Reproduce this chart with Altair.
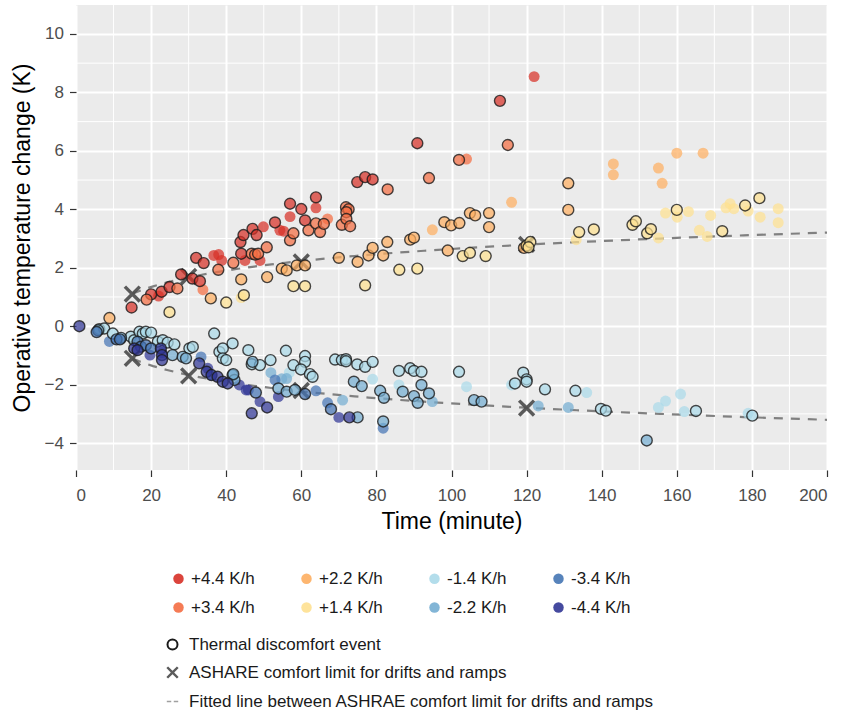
import altair as alt
import pandas as pd

# ---------------- data ----------------
rate_labels = ["+4.4 K/h", "+3.4 K/h", "+2.2 K/h", "+1.4 K/h",
               "-1.4 K/h", "-2.2 K/h", "-3.4 K/h", "-4.4 K/h"]
rate_colors = ["#d73027", "#f46d43", "#fdae61", "#fee090",
               "#abd9e9", "#74add1", "#4575b4", "#313695"]

# (time in minutes, operative temperature change in K)
p44_event = [(14.8, 0.64), (20.0, 1.09), (22.8, 1.18), (24.9, 1.34), (28.0, 1.77),
             (31.0, 1.63), (33.0, 1.54), (32.0, 2.34), (34.0, 2.16), (43.8, 2.88),
             (44.6, 3.12), (47.0, 3.33), (48.1, 3.12), (44.0, 2.48), (53.0, 3.55),
             (57.0, 4.19), (60.0, 4.01), (61.0, 3.62), (63.9, 4.41), (74.9, 4.93),
             (77.0, 5.10), (79.0, 5.02), (90.9, 6.26), (112.9, 7.71)]
p44_other = [(22.0, 1.03), (36.7, 2.42), (38.0, 2.45), (38.8, 2.25), (45.0, 2.25),
             (49.0, 2.25), (49.9, 3.40), (54.3, 3.28), (55.3, 3.25), (57.0, 3.75),
             (63.9, 4.05), (122.0, 8.54)]
p34_event = [(18.8, 0.91), (27.0, 1.29), (37.9, 1.93), (41.9, 2.17), (46.8, 2.48),
             (47.7, 2.45), (48.5, 2.48), (50.8, 2.70), (57.0, 2.94), (57.9, 3.18),
             (61.9, 3.28), (63.9, 3.52), (65.0, 3.22), (66.0, 3.50), (70.8, 3.47),
             (71.9, 4.07), (72.6, 4.00), (72.0, 3.90), (72.0, 3.67), (73.0, 3.42),
             (83.0, 4.68), (94.0, 5.07), (102.0, 5.69), (115.0, 6.20)]
p34_other = [(33.8, 1.25), (67.0, 3.67), (104.0, 5.72)]
p22_event = [(8.9, 0.28), (35.9, 0.95), (44.0, 1.60), (50.9, 1.68), (54.8, 1.97),
             (56.1, 1.91), (58.8, 2.08), (61.0, 2.08), (70.0, 2.34), (75.0, 2.20),
             (77.9, 2.42), (79.0, 2.68), (81.8, 2.42), (82.9, 2.88), (89.0, 2.96),
             (90.0, 3.03), (98.1, 3.56), (99.9, 3.45), (102.1, 3.53), (104.9, 3.87),
             (106.3, 3.79), (110.0, 3.87), (110.0, 3.39), (99.0, 2.59), (131.1, 4.89),
             (131.1, 3.98), (119.3, 2.68)]
p22_other = [(94.9, 3.30), (116.0, 4.24), (143.1, 5.55), (143.1, 5.18), (155.1, 5.41),
             (156.1, 4.89), (160.0, 5.92), (167.0, 5.92)]
p14_event = [(24.9, 0.48), (40.0, 0.81), (44.7, 1.06), (57.9, 1.37), (61.0, 1.37),
             (77.0, 1.40), (86.1, 1.93), (90.9, 1.97), (103.0, 2.40), (104.9, 2.51),
             (109.1, 2.40), (120.0, 2.76), (121.0, 2.88), (120.5, 2.70), (134.0, 3.22),
             (137.9, 3.31), (148.2, 3.47), (149.1, 3.59), (152.1, 3.18), (153.1, 3.32),
             (160.0, 3.98), (172.1, 3.25), (178.2, 4.13), (182.0, 4.38)]
p14_other = [(44.0, 0.98), (133.2, 2.96), (155.1, 3.02), (157.0, 3.87), (160.1, 3.73),
             (163.1, 3.92), (166.0, 3.28), (168.1, 3.07), (169.0, 3.79), (173.1, 4.05),
             (174.2, 4.19), (175.2, 4.02), (179.0, 3.94), (182.2, 3.73), (187.0, 4.02),
             (187.0, 3.54)]
m14_event = [(6.2, -0.10), (7.5, -0.08), (9.8, -0.25), (14.6, -0.36), (15.5, -0.48),
             (16.9, -0.19), (17.8, -0.25), (18.6, -0.19), (20.0, -0.22), (21.8, -0.53),
             (23.1, -0.48), (24.4, -0.56), (26.2, -0.62), (30.2, -0.76), (31.1, -0.71),
             (36.8, -0.25), (38.2, -0.88), (39.1, -0.76), (39.1, -1.10), (40.0, -1.16),
             (41.7, -0.59), (45.9, -0.82), (46.8, -1.30), (49.0, -1.33), (51.8, -1.16),
             (55.9, -0.84), (57.9, -1.33), (61.0, -1.02), (61.0, -1.22), (59.9, -1.48),
             (62.3, -1.64), (63.0, -1.73), (69.0, -1.14), (70.8, -1.16), (71.9, -1.13),
             (71.9, -1.20), (74.9, -1.31), (77.0, -1.39), (79.0, -1.22), (86.0, -1.53),
             (89.0, -1.44), (90.0, -1.53), (92.0, -1.56), (102.0, -1.56), (116.9, -1.96),
             (119.1, -1.59), (120.0, -1.82), (120.0, -1.90), (124.9, -2.16), (133.0, -2.21),
             (139.8, -2.83), (141.1, -2.89), (165.1, -2.90), (180.1, -3.06)]
m14_other = [(56.8, -1.59), (79.0, -1.81), (86.0, -2.01), (104.0, -2.07), (116.0, -2.01),
             (136.0, -2.27), (155.1, -2.78), (157.0, -2.56), (161.0, -2.32), (162.0, -2.92),
             (179.0, -2.98)]
m22_event = [(5.9, -0.14), (12.0, -0.40), (25.7, -0.99), (28.4, -1.05), (29.3, -1.10),
             (41.7, -1.67), (42.2, -1.84), (41.9, -1.64), (47.0, -1.22), (53.9, -2.13),
             (56.1, -2.24), (58.3, -2.18), (74.0, -1.90), (76.1, -2.05), (75.0, -3.12),
             (81.0, -2.21), (82.0, -2.45), (81.8, -3.26), (87.0, -2.24), (90.0, -2.39),
             (91.0, -2.62), (92.0, -2.01), (94.0, -2.30), (106.0, -2.53), (108.0, -2.58),
             (152.0, -3.91)]
m22_other = [(51.9, -1.59), (54.8, -1.80), (56.1, -1.79), (71.0, -2.53), (94.9, -2.58),
             (123.1, -2.73), (131.1, -2.78)]
m34_event = [(5.5, -0.20), (10.8, -0.45), (11.7, -0.45), (16.4, -0.53), (17.3, -0.70),
             (18.6, -0.65), (20.0, -0.76), (47.9, -2.27), (61.0, -2.32), (67.9, -2.84)]
m34_other = [(8.9, -0.52), (33.3, -1.05), (36.0, -1.67), (53.0, -1.84), (63.9, -2.21),
             (67.0, -2.62), (81.8, -3.49)]
m44_event = [(0.9, 0.00), (15.5, -0.76), (16.4, -0.82), (22.6, -0.76), (22.9, -0.99),
             (22.9, -1.16), (32.8, -1.27), (34.8, -1.56), (36.1, -1.67), (37.7, -1.73),
             (39.1, -1.90), (40.4, -1.96), (50.9, -2.78), (46.8, -2.98), (72.8, -3.12)]
m44_other = [(19.7, -0.99), (22.9, -0.90), (35.1, -1.44), (43.5, -2.01), (45.3, -2.18),
             (45.9, -2.18), (49.0, -2.58), (53.9, -2.41), (70.0, -3.12)]

ashrae_time = [15, 30, 60, 120]
ashrae_limit = [1.1, 1.7, 2.2, 2.8]

x_major = list(range(0, 201, 20))
x_minor = list(range(10, 200, 20))
y_major = [-4, -2, 0, 2, 4, 6, 8, 10]
y_minor = [-3, -1, 1, 3, 5, 7, 9]

EVENT_LABEL = "Thermal discomfort event"
ASHRAE_LABEL = "ASHARE comfort limit for drifts and ramps"
FIT_LABEL = "Fitted line between ASHRAE comfort limit for drifts and ramps"
X_PATH = ("M-1,-0.72L-0.72,-1L0,-0.28L0.72,-1L1,-0.72L0.28,0L1,0.72L0.72,1"
          "L0,0.28L-0.72,1L-1,0.72L-0.28,0Z")
DASH_PATH = "M-1,0L-0.22,0M0.22,0L1,0"
FONT = "Liberation Sans"

# ---------------- tables ----------------
groups = [
    ("+4.4 K/h", p44_event, p44_other), ("+3.4 K/h", p34_event, p34_other),
    ("+2.2 K/h", p22_event, p22_other), ("+1.4 K/h", p14_event, p14_other),
    ("-1.4 K/h", m14_event, m14_other), ("-2.2 K/h", m22_event, m22_other),
    ("-3.4 K/h", m34_event, m34_other), ("-4.4 K/h", m44_event, m44_other),
]
rows = []
for lab, ev, ot in groups:
    for t, v in ot:
        rows.append({"t": t, "v": v, "rate": lab, "event": 0, "ev": ""})
    for t, v in ev:
        rows.append({"t": t, "v": v, "rate": lab, "event": 1, "ev": EVENT_LABEL})
pts = pd.DataFrame(rows)

ash = pd.DataFrame(
    [{"t": t, "v": s * l, "sign": "pos" if s > 0 else "neg", "lab": ASHRAE_LABEL}
     for s in (1, -1) for t, l in zip(ashrae_time, ashrae_limit)]
)

xs = alt.Scale(domain=[0, 200], nice=False, zero=False)
ys = alt.Scale(domain=[-4.92, 10.99], nice=False, zero=False)

axis_common = dict(grid=True, gridColor="white", gridWidth=2, domain=False,
                   tickColor="#333333", tickSize=6.5, tickWidth=1.2,
                   labelColor="#4D4D4D", labelFontSize=17, labelFont=FONT,
                   titleFont=FONT, titleFontSize=23, titleFontWeight="normal",
                   titleColor="black")
xaxis = alt.Axis(values=x_major, title="Time (minute)", labelPadding=11,
                 titlePadding=7, **axis_common)
yaxis = alt.Axis(values=y_major, title="Operative temperature change (K)",
                 labelPadding=6, titleX=-47, titleY=232.5, titleAngle=270,
                 titleAlign="center", titleBaseline="alphabetic", **axis_common)

leg_common = dict(title=None, orient="none", labelFontSize=17, labelFont=FONT,
                  labelColor="#1a1a1a", labelLimit=0)

minor_x = alt.Chart(pd.DataFrame({"x": x_minor})).mark_rule(
    color="white", strokeWidth=1).encode(x=alt.X("x:Q", scale=xs, axis=xaxis))
minor_y = alt.Chart(pd.DataFrame({"y": y_minor})).mark_rule(
    color="white", strokeWidth=1).encode(y=alt.Y("y:Q", scale=ys, axis=yaxis))

fit = alt.Chart(ash).transform_regression(
    "t", "v", method="log", groupby=["sign"], extent=[15, 200]
).transform_calculate(fit=f'"{FIT_LABEL}"').mark_line(
    color="#808080", strokeWidth=2.2
).encode(
    x=alt.X("t:Q", scale=xs, axis=xaxis),
    y=alt.Y("v:Q", scale=ys, axis=yaxis),
    detail="sign:N",
    strokeDash=alt.StrokeDash("fit:N", scale=alt.Scale(domain=[FIT_LABEL], range=[[9, 8]]),
                              legend=alt.Legend(legendX=88, legendY=688, labelOffset=8,
                                                symbolType=DASH_PATH,
                                                symbolSize=130, symbolStrokeWidth=1.5,
                                                symbolStrokeColor="#a0a0a0",
                                                **leg_common)),
)

xmarks = alt.Chart(ash).mark_point(filled=True, color="#4d4d4d", size=300, opacity=0.92).encode(
    x=alt.X("t:Q", scale=xs, axis=xaxis),
    y=alt.Y("v:Q", scale=ys, axis=yaxis),
    shape=alt.Shape("lab:N", scale=alt.Scale(domain=[ASHRAE_LABEL], range=[X_PATH]),
                    legend=alt.Legend(legendX=88, legendY=659, labelOffset=8,
                                      symbolSize=150, symbolFillColor="#4d4d4d",
                                      symbolStrokeWidth=0, **leg_common)),
)

color_enc = alt.Color("rate:N", scale=alt.Scale(domain=rate_labels, range=rate_colors),
                      legend=alt.Legend(legendX=94, legendY=565, columns=4,
                                        columnPadding=43, rowPadding=11,
                                        gridAlign="each", labelOffset=4, symbolSize=110,
                                        symbolStrokeWidth=0, symbolOpacity=0.9,
                                        **leg_common))

others = alt.Chart(pts).transform_filter("datum.event == 0").mark_point(
    filled=True, shape="circle", size=120, fillOpacity=0.72, strokeWidth=0
).encode(
    x=alt.X("t:Q", scale=xs, axis=xaxis),
    y=alt.Y("v:Q", scale=ys, axis=yaxis),
    color=color_enc,
)

events = alt.Chart(pts).transform_filter("datum.event == 1").mark_point(
    filled=True, shape="circle", size=120, fillOpacity=0.72, strokeWidth=1.4,
    strokeOpacity=0.8
).encode(
    x=alt.X("t:Q", scale=xs, axis=xaxis),
    y=alt.Y("v:Q", scale=ys, axis=yaxis),
    color=color_enc,
    stroke=alt.Stroke("ev:N", scale=alt.Scale(domain=[EVENT_LABEL], range=["#1a1a1a"]),
                      legend=alt.Legend(legendX=88, legendY=631, labelOffset=8,
                                        symbolSize=100, symbolStrokeWidth=2,
                                        symbolFillColor="transparent", **leg_common)),
)

chart = alt.layer(minor_x, minor_y, fit, xmarks, others, events).properties(
    width=751, height=465,
    background="white",
    autosize=alt.AutoSizeParams(type="none"),
    padding={"left": 76, "top": 5, "right": 17, "bottom": 243},
).configure_view(fill="#EBEBEB", strokeWidth=0)

chart.save("out.html", embed_options={"renderer": "svg", "actions": False})
